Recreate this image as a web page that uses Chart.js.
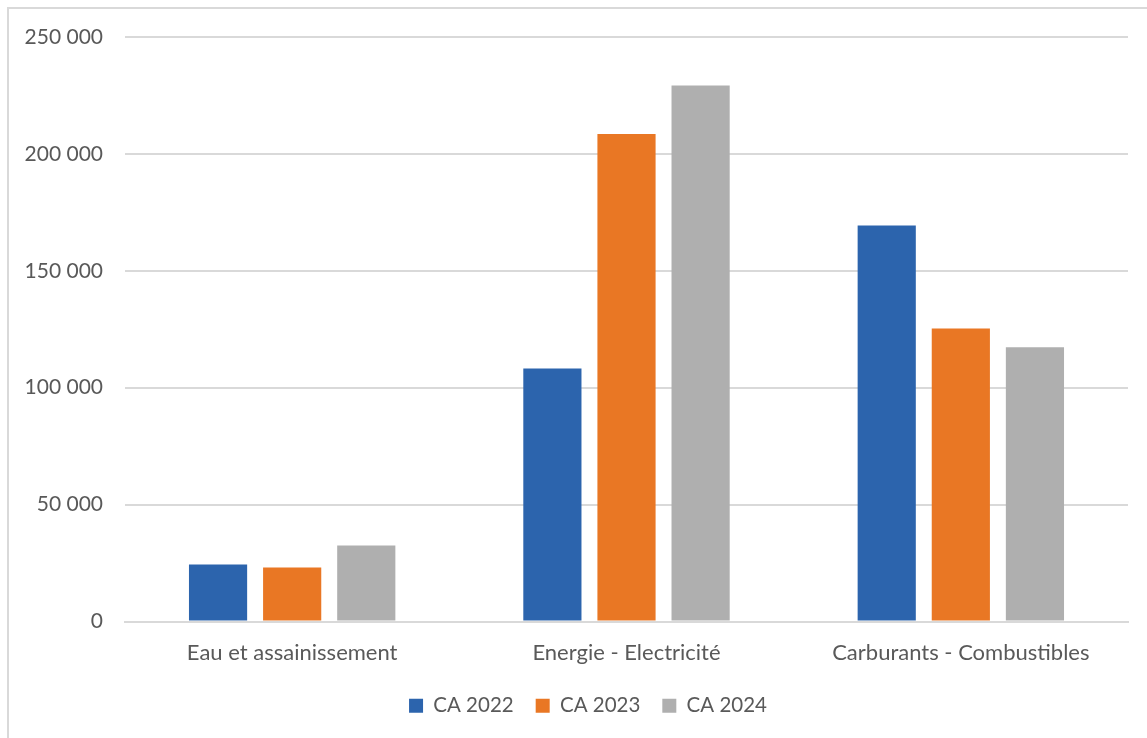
<!DOCTYPE html>
<html>
<head>
<meta charset="utf-8">
<script src="https://cdn.jsdelivr.net/npm/chart.js@4"></script>
<style>
  body { margin: 0; background: #fff; }
  #wrap { position: relative; width: 1147px; height: 738px; }
</style>
</head>
<body>
<div id="wrap"><canvas id="myChart"></canvas></div>
<script>
const categories = ['Eau et assainissement', 'Energie - Electricité', 'Carburants - Combustibles'];
const ca2022 = [24400, 108200, 169400];
const ca2023 = [23100, 208500, 125300];
const ca2024 = [32500, 229300, 117300];

const txt = '#595959';
const fmt = v => String(v).replace(/\B(?=(\d{3})+(?!\d))/g, ' ');

// light frame round the chart (only top/left visible in the picture)
const frame = {
    id: 'frame',
    beforeDraw(chart) {
        const c = chart.ctx;
        c.save();
        c.strokeStyle = '#d9d9d9';
        c.lineWidth = 2;
        c.strokeRect(8, 8, 1160, 760);
        c.restore();
    }
};

// legend sits a bit right of the canvas centre in the original
const legendShift = {
    id: 'legendShift',
    afterLayout(chart) {
        chart.legend.left += 24;
        chart.legend.right += 24;
    }
};

Chart.defaults.font.family = 'Lato, "Open Sans", sans-serif';
Chart.defaults.font.size = 21;
Chart.defaults.color = txt;

new Chart(document.getElementById('myChart'), {
    type: 'bar',
    data: {
        labels: categories,
        datasets: [
            { label: 'CA 2022', data: ca2022, backgroundColor: '#2c64ad' },
            { label: 'CA 2023', data: ca2023, backgroundColor: '#e97724' },
            { label: 'CA 2024', data: ca2024, backgroundColor: '#afafaf' }
        ]
    },
    options: {
        responsive: true,
        maintainAspectRatio: false,
        animation: false,
        datasets: { bar: { categoryPercentage: 0.665, barPercentage: 0.785 } },
        layout: { padding: { top: 37, right: 19, left: 0, bottom: 12 } },
        plugins: {
            legend: {
                position: 'bottom',
                labels: { boxWidth: 14, boxHeight: 14, padding: 22, color: txt, font: { size: 20.5 } }
            },
            tooltip: { enabled: false }
        },
        scales: {
            x: {
                grid: { display: false },
                border: { color: '#d9d9d9', width: 2 },
                ticks: { padding: 10, color: txt, font: { size: 22 } },
                afterFit: s => { s.height = 52; }
            },
            y: {
                min: 0,
                max: 250000,
                ticks: { stepSize: 50000, padding: 22, color: txt, callback: v => fmt(v) },
                grid: { color: '#d9d9d9', lineWidth: 2, drawTicks: false },
                border: { display: false },
                afterFit: s => { s.width = 125; }
            }
        }
    },
    plugins: [frame, legendShift]
});
</script>
</body>
</html>
